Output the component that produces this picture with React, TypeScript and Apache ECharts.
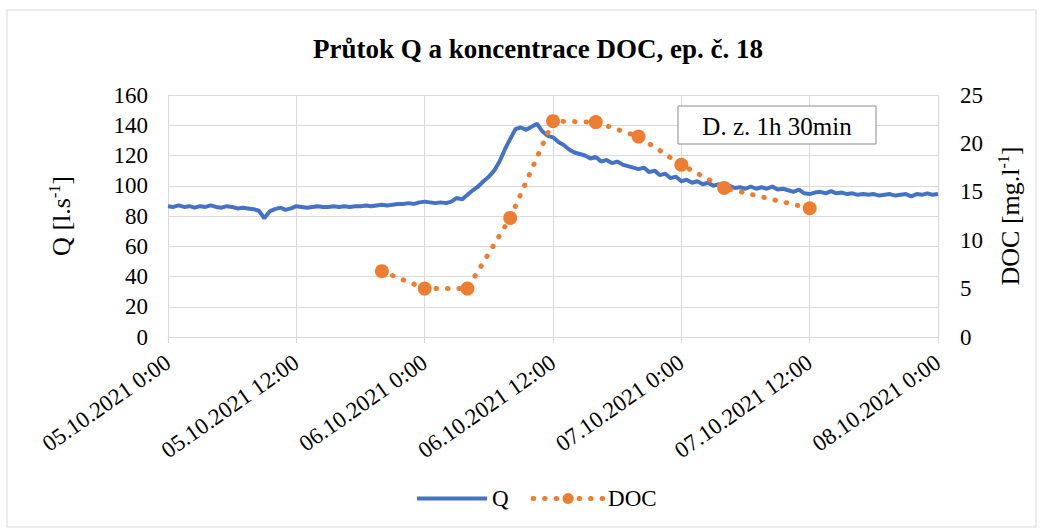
import { useEffect, useRef } from "react";
import * as echarts from "echarts";

const chartTitle = "Průtok Q a koncentrace DOC, ep. č. 18";
const xTickLabels = [
  "05.10.2021 0:00",
  "05.10.2021 12:00",
  "06.10.2021 0:00",
  "06.10.2021 12:00",
  "07.10.2021 0:00",
  "07.10.2021 12:00",
  "08.10.2021 0:00",
];
// Q sampled every 0.5 h starting 05.10.2021 0:00
const qStepHours = 0.5;
const qValues = [
  86.5, 86, 87, 86, 86.5, 85.5, 86.5, 86, 87, 86, 85.5, 86.5, 86, 85, 85.5, 85, 84.5,
  83.5, 78.5, 83, 84.5, 85.5, 84, 85, 86.5,
  86, 85.5, 86, 86.5, 86, 86, 86.5, 86, 86.5, 86, 86.5, 86.5,
  87, 86.5, 87, 87.5, 87, 87.5, 88, 88, 88.5, 88, 89, 89.5,
  89, 88.5, 89, 88.5, 89.5, 92, 91, 94, 97, 99.5, 103, 106,
  110, 116, 124, 131, 137.5, 138.5, 137, 139, 141, 136, 133, 132,
  129, 127, 124, 122, 121, 120, 118, 119, 116, 117, 115, 116,
  114, 113, 112, 111, 112, 109, 110, 107, 108, 105, 106, 103,
  104, 102, 103, 101, 102, 100, 101, 99, 100, 98.5, 99, 98,
  99.5, 98, 99, 98, 99.5, 97.5, 98, 97, 96, 97.5, 95, 94.5,
  95.5, 96, 95, 96.5, 95, 95.5, 94.5, 95, 94, 94.5, 94, 94.5,
  93.5, 94, 94.5, 93.5, 94, 94.5, 93, 94.5, 94, 95, 94, 94.5,
];
// DOC samples, hours since 05.10.2021 0:00
const docHours = [20, 24, 28, 32, 36, 40, 44, 48, 52, 60];
const docValues = [6.8, 5.0, 5.0, 12.3, 22.3, 22.2, 20.7, 17.8, 15.4, 13.3];
const noteText = "D. z. 1h 30min";

const FONT = "Liberation Serif, Times New Roman, serif";
const GRID = "#d9d9d9";
const BLUE = "#4472C4";
const ORANGE = "#ED7D31";
const TICK_FS = 23;

export default function App() {
  const ref = useRef<HTMLDivElement>(null);
  useEffect(() => {
    if (!ref.current) return;
    const chart = echarts.init(ref.current, undefined, { renderer: "svg" });
    const qData = qValues.map((v, i) => [i * qStepHours, v]);
    const docData = docHours.map((h, i) => [h, docValues[i]]);
    const nameRich = {
      n: { fontFamily: FONT, fontSize: 26, color: "#000", lineHeight: 30 },
      s: { fontFamily: FONT, fontSize: 16, color: "#000", verticalAlign: "top", lineHeight: 30 },
    };
    chart.setOption({
      animation: false,
      backgroundColor: "#fff",
      textStyle: { fontFamily: FONT },
      title: {
        text: chartTitle,
        left: 533,
        textAlign: "center",
        top: 30,
        textStyle: { fontFamily: FONT, fontSize: 27, fontWeight: "bold", color: "#000" },
      },
      legend: {
        left: 410,
        bottom: 15,
        itemWidth: 70,
        itemHeight: 14,
        itemGap: 22,
        textStyle: { fontFamily: FONT, fontSize: TICK_FS, color: "#000" },
        data: [
          { name: "Q", itemStyle: { opacity: 0 }, lineStyle: { width: 4 } },
          { name: "DOC", lineStyle: { width: 5 } },
        ],
      },
      grid: { left: 168, right: 102, top: 95, bottom: 193 },
      xAxis: {
        type: "value",
        min: 0,
        max: 72,
        interval: 12,
        axisLine: { show: true, lineStyle: { color: GRID, width: 1 } },
        axisTick: { show: true, length: 6, lineStyle: { color: GRID } },
        splitLine: { show: true, lineStyle: { color: GRID, width: 1 } },
        axisLabel: {
          rotate: 35,
          margin: 23,
          showMinLabel: true,
          showMaxLabel: true,
          fontFamily: FONT,
          fontSize: TICK_FS,
          color: "#000",
          formatter: (v: number) => xTickLabels[Math.round(v / 12)] ?? "",
        },
      },
      yAxis: [
        {
          type: "value",
          min: 0,
          max: 160,
          interval: 20,
          position: "left",
          name: "{n|Q [l.s}{s|-1}{n|]}",
          nameLocation: "middle",
          nameRotate: 90,
          nameGap: 92,
          nameTextStyle: { fontFamily: FONT, rich: nameRich },
          axisLine: { show: true, lineStyle: { color: GRID } },
          axisTick: { show: false },
          splitLine: { show: true, lineStyle: { color: GRID, width: 1 } },
          axisLabel: { margin: 20, fontFamily: FONT, fontSize: TICK_FS, color: "#000" },
        },
        {
          type: "value",
          min: 0,
          max: 25,
          interval: 5,
          position: "right",
          name: "{n|DOC [mg.l}{s|-1}{n|]}",
          nameLocation: "middle",
          nameRotate: 90,
          nameGap: 57,
          nameTextStyle: { fontFamily: FONT, rich: nameRich },
          axisLine: { show: false },
          axisTick: { show: false },
          splitLine: { show: false },
          axisLabel: { margin: 22, fontFamily: FONT, fontSize: TICK_FS, color: "#000" },
        },
      ],
      graphic: [
        {
          type: "rect",
          shape: { x: 7, y: 10, width: 1029, height: 517 },
          style: { fill: "none", stroke: GRID, lineWidth: 1 },
          silent: true,
          z: -10,
        },
        {
          type: "rect",
          shape: { x: 678, y: 106, width: 198, height: 38 },
          style: { fill: "#fff", stroke: "#8c8c8c", lineWidth: 1 },
          z: 100,
        },
        {
          type: "text",
          x: 777,
          y: 126,
          z: 101,
          style: {
            text: noteText,
            fontFamily: FONT,
            fontSize: 25,
            fill: "#000",
            align: "center",
            verticalAlign: "middle",
          },
        },
      ],
      series: [
        {
          name: "Q",
          type: "line",
          data: qData,
          showSymbol: false,
          symbol: "none",
          lineStyle: { color: BLUE, width: 4 },
          itemStyle: { color: BLUE },
          z: 2,
        },
        {
          name: "DOC",
          type: "line",
          yAxisIndex: 1,
          data: docData,
          symbol: "circle",
          symbolSize: 14,
          lineStyle: { color: ORANGE, width: 5, type: [0.5, 11], cap: "round" },
          itemStyle: { color: ORANGE },
          z: 3,
        },
      ],
    });
    return () => chart.dispose();
  }, []);
  return (
    <div
      ref={ref}
      style={{ position: "fixed", left: 0, top: 0, width: 1040, height: 530 }}
    />
  );
}
